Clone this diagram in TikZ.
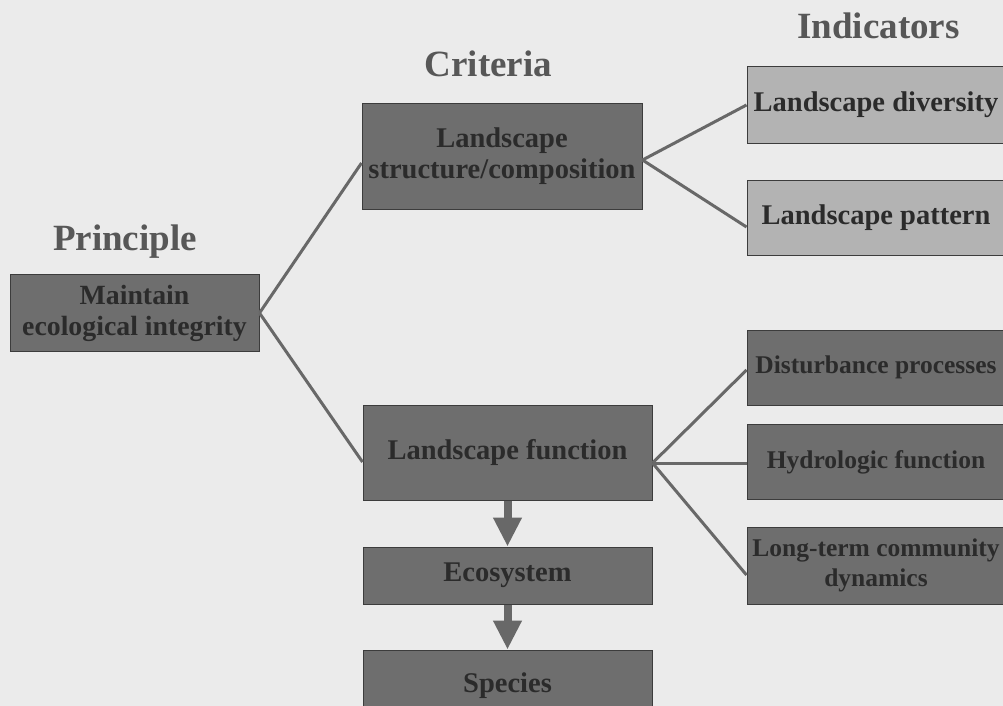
\documentclass[tikz,border=0pt]{standalone}
\usepackage{fontspec}
\setmainfont{Liberation Serif}
\usetikzlibrary{arrows.meta,calc}
\definecolor{bg}{HTML}{EBEBEB}
\definecolor{darkfill}{HTML}{6E6E6E}
\definecolor{lightfill}{HTML}{B3B3B3}
\definecolor{boxline}{HTML}{3C3C3C}
\definecolor{txt}{HTML}{2B2B2B}
\definecolor{titletxt}{HTML}{575757}
\definecolor{conn}{HTML}{686868}
\tikzset{
  box/.style={draw=boxline, line width=1pt, fill=darkfill, text=txt, inner sep=0pt,
    font=\fontsize{28.5}{31}\selectfont\bfseries, align=center},
  lightbox/.style={box, fill=lightfill},
  smallbox/.style={box, font=\fontsize{25.5}{30}\selectfont\bfseries},
  title/.style={text=titletxt, font=\fontsize{37}{40}\selectfont\bfseries, anchor=base, inner sep=0pt},
  conline/.style={draw=conn, line width=3pt},
  bigarrow/.style={draw=conn, line width=8pt, -{Triangle[width=27pt,length=29pt]}}
}
\begin{document}
\begin{tikzpicture}[x=1pt,y=-1pt]
\fill[bg] (0,0) rectangle (1003,706);
\useasboundingbox (0,0) rectangle (1003,706);
\begin{scope}
\clip (0,0) rectangle (1003,706);
% titles
\node[title] (tP) at (125,250) {Principle};
\node[title] (tC) at (488.5,77) {Criteria};
\node[title] (tI) at (878.5,39) {Indicators};
% principle
\node[box, font=\fontsize{27.8}{31}\selectfont\bfseries, minimum width=249pt, minimum height=77pt] (P) at (134.5,313) {Maintain\\ecological integrity};
% criteria
\node[box, minimum width=280pt, minimum height=105pt] (LS) at (502,156.5) {Landscape\\structure/composition};
\node[box, minimum width=289pt, minimum height=95pt] (LF) at (507.5,452.5) {Landscape function};
\node[box, minimum width=289pt, minimum height=57pt] (ECO) at (507.5,575.5) {Ecosystem};
\node[box, minimum width=289pt, minimum height=68pt, text depth=0pt] (SP) at (507.5,684) {\raisebox{2pt}{Species}};
% indicators
\node[lightbox, minimum width=258pt, minimum height=76pt] (LD) at (876,105) {Landscape diversity};
\node[lightbox, minimum width=258pt, minimum height=75pt] (LP) at (876,217.5) {Landscape pattern};
\node[smallbox, minimum width=258pt, minimum height=75pt] (DP) at (876,367.5) {Disturbance processes};
\node[smallbox, minimum width=258pt, minimum height=75pt] (HF) at (876,462) {Hydrologic function};
\node[smallbox, minimum width=258pt, minimum height=77pt] (LT) at (876,565.5) {Long-term community\\dynamics};
% connectors
\coordinate (Pe) at (P.east);
\coordinate (LSw) at ($(LS.west)+(0,6.5)$);
\coordinate (LFw) at ($(LF.west)+(0,9.5)$);
\coordinate (LSe) at ($(LS.east)+(0,3.5)$);
\coordinate (LDw) at (LD.west);
\coordinate (LPw) at ($(LP.west)+(0,9.5)$);
\coordinate (LFe) at ($(LF.east)+(0,10.5)$);
\coordinate (DPw) at ($(DP.west)+(0,2.5)$);
\coordinate (HFw) at ($(HF.west)+(0,1)$);
\coordinate (LTw) at ($(LT.west)+(0,9.5)$);
\draw[conline] (Pe) -- (LSw);
\draw[conline] (Pe) -- (LFw);
\draw[conline] (LSe) -- (LDw);
\draw[conline] (LSe) -- (LPw);
\draw[conline] (LFe) -- (DPw);
\draw[conline] (LFe) -- (HFw);
\draw[conline] (LFe) -- (LTw);
\draw[bigarrow] (LF.south) -- (ECO.north);
\draw[bigarrow] (ECO.south) -- (SP.north);
\end{scope}
\end{tikzpicture}
\end{document}
